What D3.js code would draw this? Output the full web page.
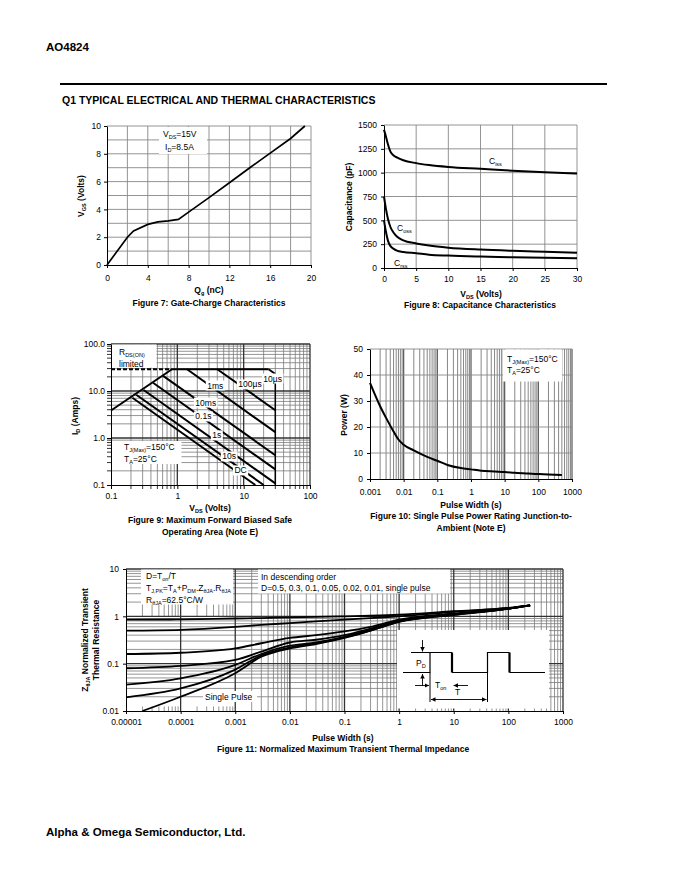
<!DOCTYPE html>
<html>
<head>
<meta charset="utf-8">
<script src="https://cdn.jsdelivr.net/npm/d3@7/dist/d3.min.js"></script>
<style>
  body { margin: 0; background: #fff; }
  svg text { font-family: "Liberation Sans", Arial, sans-serif; fill: #000; }
</style>
</head>
<body>
<svg id="page" width="680" height="880"></svg>
<script>
// Figure 7: gate charge
const gateQg  = [0, 2, 2.6, 4, 5, 6, 7, 8, 10, 12, 14, 16, 18, 19.4]
const gateVgs = [0, 2.0, 2.45, 2.92, 3.1, 3.18, 3.28, 3.8, 4.85, 5.92, 7.0, 8.05, 9.1, 10]
const gateXTicks = [0, 4, 8, 12, 16, 20]
const gateYTicks = [0, 2, 4, 6, 8, 10]

// Figure 8: capacitance
const capVds = [0, 0.3, 0.6, 1, 1.5, 2, 3, 5, 7, 10, 15, 20, 25, 30]
const ciss = [1450, 1380, 1300, 1220, 1180, 1160, 1130, 1100, 1080, 1060, 1040, 1020, 1005, 990]
const coss = [750, 620, 520, 430, 370, 330, 290, 258, 235, 213, 193, 180, 170, 160]
const crss = [500, 380, 290, 230, 200, 182, 168, 155, 140, 130, 120, 113, 107, 102]
const capXTicks = [0, 5, 10, 15, 20, 25, 30]
const capYTicks = [0, 250, 500, 750, 1000, 1250, 1500]

// Figure 9: safe operating area
const rdsLimitV = [0.1, 0.83]
const rdsLimitI = [3.85, 29]
const soaLimitI = 29
const soaNames  = ["10µs", "100µs", "1ms", "10ms", "0.1s", "1s", "10s", "DC"]
const soaStartV = [23.8, 4.0, 1.4, 0.61, 0.43, 0.31, 0.24, 0.21]
const soaStartI = [29, 29, 29, 21, 15, 10.5, 8.3, 7.2]
const soaEndV   = [30, 30, 30, 30, 30, 30, 20, 15]
const soaEndI   = [23, 3.9, 1.33, 0.43, 0.215, 0.108, 0.1, 0.1]
const soaVmax = 30
const soaTicks = [0.1, 1, 10, 100]
const soaXLabels = ["0.1", "1", "10", "100"]
const soaYLabels = ["0.1", "1.0", "10.0", "100.0"]

// Figure 10: single pulse power
const pulseT = [0.001, 0.002, 0.003, 0.005, 0.007, 0.01, 0.02, 0.05, 0.1, 0.2, 0.5, 1, 2, 5, 10, 20, 50, 100, 200, 500]
const pulseP = [37, 28, 23.5, 18.3, 15.2, 13.2, 11, 8.5, 7, 5.4, 4.2, 3.7, 3.2, 2.9, 2.7, 2.4, 2.1, 1.9, 1.7, 1.5]
const pulseXTicks = [0.001, 0.01, 0.1, 1, 10, 100, 1000]
const pulseXLabels = ["0.001", "0.01", "0.1", "1", "10", "100", "1000"]
const pulseYTicks = [0, 10, 20, 30, 40, 50]

// Figure 11: transient thermal impedance
const zthT    = [1e-5, 1e-4, 1e-3, 3e-3, 1e-2, 3e-2, 0.1, 0.3, 1, 10, 100, 250]
const zthD50  = [0.85, 0.86, 0.9, 0.92, 0.95, 0.97, 1.0, 1.03, 1.08, 1.28, 1.5, 1.7]
const zthD30  = [0.5, 0.52, 0.6, 0.66, 0.72, 0.78, 0.85, 0.92, 1.0, 1.25, 1.5, 1.7]
const zthD10  = [0.16, 0.17, 0.21, 0.27, 0.35, 0.4, 0.48, 0.6, 0.85, 1.15, 1.46, 1.7]
const zthD05  = [0.08, 0.09, 0.12, 0.18, 0.28, 0.32, 0.4, 0.55, 0.8, 1.1, 1.45, 1.7]
const zthD02  = [0.036, 0.049, 0.094, 0.16, 0.24, 0.28, 0.37, 0.52, 0.78, 1.1, 1.45, 1.7]
const zthD01  = [0.0195, 0.03, 0.075, 0.15, 0.22, 0.27, 0.36, 0.5, 0.77, 1.08, 1.45, 1.7]
const zthSingleT = [2e-5, 1e-4, 1e-3, 3e-3, 1e-2, 3e-2, 0.1, 0.3, 1, 10, 100, 250]
const zthSingle  = [0.01, 0.02, 0.063, 0.14, 0.21, 0.26, 0.35, 0.5, 0.76, 1.07, 1.44, 1.7]
const zthXTicks = [1e-5, 1e-4, 1e-3, 1e-2, 0.1, 1, 10, 100, 1000]
const zthXLabels = ["0.00001", "0.0001", "0.001", "0.01", "0.1", "1", "10", "100", "1000"]
const zthYTicks = [0.01, 0.1, 1, 10]
const zthYLabels = ["0.01", "0.1", "1", "10"]

const svg = d3.select("#page")
svg.append("rect").attr("width", 680).attr("height", 880).attr("fill", "#fff")

const defs = svg.append("defs")
defs.append("marker").attr("id", "arr").attr("viewBox", "0 0 8 8").attr("refX", 8).attr("refY", 4)
  .attr("markerWidth", 5).attr("markerHeight", 5).attr("orient", "auto-start-reverse")
  .append("path").attr("d", "M0,0 L8,4 L0,8 Z").attr("fill", "#000")

// text with subscripts: parts are strings or [subscript]
function rich(g, x, y, parts, size, attrs = {}) {
  const t = g.append("text").attr("x", x).attr("y", y).attr("font-size", size)
  Object.entries(attrs).forEach(([k, v]) => t.attr(k, v))
  let sub = false
  parts.forEach(p => {
    const isSub = Array.isArray(p)
    const ts = t.append("tspan").text(isSub ? p[0] : p)
    if (isSub && !sub) ts.attr("dy", size * 0.28)
    if (!isSub && sub) ts.attr("dy", -size * 0.28)
    if (isSub) ts.attr("font-size", size * 0.65)
    sub = isSub
  })
  return t
}

function whiteBox(g, x, y, w, h) {
  g.append("rect").attr("x", x).attr("y", y).attr("width", w).attr("height", h).attr("fill", "#fff")
}

function styleAxis(a, fs) {
  a.attr("font-family", null).attr("font-size", fs)
  a.select(".domain").attr("stroke", "#000").attr("stroke-width", 1)
  a.selectAll(".tick line").attr("stroke", "#000")
  a.selectAll("text").attr("fill", "#000")
}

function logMinor(domain) {
  const out = []
  for (let e = Math.round(Math.log10(domain[0])); e < Math.round(Math.log10(domain[1])); e++)
    for (let k = 2; k <= 9; k++) out.push(k * Math.pow(10, e))
  return out
}
function logMajor(domain) {
  const out = []
  for (let e = Math.round(Math.log10(domain[0])); e <= Math.round(Math.log10(domain[1])); e++) out.push(Math.pow(10, e))
  return out
}

function vLines(g, x, y, vals, y0, y1, color, w) {
  g.append("g").selectAll("line").data(vals).join("line")
    .attr("x1", d => x(d)).attr("x2", d => x(d)).attr("y1", y(y0)).attr("y2", y(y1))
    .attr("stroke", color).attr("stroke-width", w)
}
function hLines(g, x, y, vals, x0, x1, color, w) {
  g.append("g").selectAll("line").data(vals).join("line")
    .attr("y1", d => y(d)).attr("y2", d => y(d)).attr("x1", x(x0)).attr("x2", x(x1))
    .attr("stroke", color).attr("stroke-width", w)
}

const TICK = 8.5, TITLE = 8.5, CAP = 8.5
const MINOR = "#7a7a7a"

// ---------- page header / footer ----------
svg.append("text").attr("x", 46).attr("y", 51).attr("font-size", 11.5).attr("font-weight", "bold").text("AO4824")
svg.append("line").attr("x1", 60).attr("x2", 607).attr("y1", 84).attr("y2", 84).attr("stroke", "#000").attr("stroke-width", 2)
svg.append("text").attr("x", 62).attr("y", 104).attr("font-size", 10.5).attr("font-weight", "bold")
  .text("Q1 TYPICAL ELECTRICAL AND THERMAL CHARACTERISTICS")
svg.append("text").attr("x", 46).attr("y", 836).attr("font-size", 11.5).attr("font-weight", "bold")
  .text("Alpha & Omega Semiconductor, Ltd.")

// ---------- Figure 7 ----------
{
  const g = svg.append("g")
  const x = d3.scaleLinear().domain([0, 20]).range([107, 311])
  const y = d3.scaleLinear().domain([0, 10]).range([265, 126])
  vLines(g, x, y, d3.range(2, 21, 2), 0, 10, "#888", 0.9)
  hLines(g, x, y, d3.range(1, 11, 1), 0, 20, "#888", 0.9)
  whiteBox(g, 159, 127, 48, 27)
  rich(g, 163, 137, ["V", ["DS"], "=15V"], 8.5)
  rich(g, 165, 150, ["I", ["D"], "=8.5A"], 8.5)
  g.append("path").datum(d3.zip(gateQg, gateVgs))
    .attr("d", d3.line().x(d => x(d[0])).y(d => y(d[1])))
    .attr("fill", "none").attr("stroke", "#000").attr("stroke-width", 1.7)
  const ax = g.append("g").attr("transform", "translate(0,265)")
    .call(d3.axisBottom(x).tickValues(gateXTicks).tickSize(3).tickPadding(7).tickSizeOuter(0))
  styleAxis(ax, TICK)
  const ay = g.append("g").attr("transform", "translate(107,0)")
    .call(d3.axisLeft(y).tickValues(gateYTicks).tickSize(3).tickPadding(3).tickSizeOuter(0))
  styleAxis(ay, TICK)
  rich(g, 0, 0, ["V", ["GS"], " (Volts)"], TITLE, { "font-weight": "bold", "text-anchor": "middle", transform: "translate(84,196) rotate(-90)" })
  rich(g, 209, 293, ["Q", ["g"], " (nC)"], TITLE, { "font-weight": "bold", "text-anchor": "middle" })
  g.append("text").attr("x", 209).attr("y", 306).attr("font-size", CAP).attr("font-weight", "bold")
    .attr("text-anchor", "middle").text("Figure 7: Gate-Charge Characteristics")
}

// ---------- Figure 8 ----------
{
  const g = svg.append("g")
  const x = d3.scaleLinear().domain([0, 30]).range([384, 577])
  const y = d3.scaleLinear().domain([0, 1500]).range([268, 125])
  vLines(g, x, y, d3.range(5, 31, 5), 0, 1500, "#888", 0.9)
  hLines(g, x, y, d3.range(250, 1501, 250), 0, 30, "#888", 0.9)
  const line = d3.line().x(d => x(d[0])).y(d => y(d[1])).curve(d3.curveMonotoneX)
  ;[ciss, coss, crss].forEach(s => {
    g.append("path").datum(d3.zip(capVds, s)).attr("d", line)
      .attr("fill", "none").attr("stroke", "#000").attr("stroke-width", 2)
  })
  rich(g, 489, 164, ["C", ["iss"]], 8.5)
  rich(g, 397, 231, ["C", ["oss"]], 8.5)
  rich(g, 394, 266, ["C", ["rss"]], 8.5)
  const ax = g.append("g").attr("transform", "translate(0,268)")
    .call(d3.axisBottom(x).tickValues(capXTicks).tickSize(3).tickPadding(5).tickSizeOuter(0))
  styleAxis(ax, TICK)
  const ay = g.append("g").attr("transform", "translate(384,0)")
    .call(d3.axisLeft(y).tickValues(capYTicks).tickFormat(d3.format("d")).tickSize(3).tickPadding(4).tickSizeOuter(0))
  styleAxis(ay, TICK)
  g.append("text").attr("font-size", TITLE).attr("font-weight", "bold").attr("text-anchor", "middle")
    .attr("transform", "translate(352,197) rotate(-90)").text("Capacitance (pF)")
  rich(g, 481, 297, ["V", ["DS"], " (Volts)"], TITLE, { "font-weight": "bold", "text-anchor": "middle" })
  g.append("text").attr("x", 480).attr("y", 308).attr("font-size", CAP).attr("font-weight", "bold")
    .attr("text-anchor", "middle").text("Figure 8: Capacitance Characteristics")
}

// ---------- Figure 9 ----------
{
  const g = svg.append("g")
  const dom = [0.1, 100]
  const x = d3.scaleLog().domain(dom).range([111, 310])
  const y = d3.scaleLog().domain(dom).range([485, 344])
  vLines(g, x, y, logMinor(dom), 0.1, 100, MINOR, 0.8)
  hLines(g, x, y, logMinor(dom), 0.1, 100, MINOR, 0.8)
  vLines(g, x, y, logMajor(dom).slice(1), 0.1, 100, "#333", 1.3)
  hLines(g, x, y, logMajor(dom).slice(1), 0.1, 100, "#333", 1.3)
  // minor ticks outside
  g.append("g").selectAll("line").data(logMinor(dom)).join("line")
    .attr("x1", 107).attr("x2", 111).attr("y1", d => y(d)).attr("y2", d => y(d)).attr("stroke", "#000").attr("stroke-width", 0.8)
  g.append("g").selectAll("line").data(logMinor(dom)).join("line")
    .attr("y1", 485).attr("y2", 489).attr("x1", d => x(d)).attr("x2", d => x(d)).attr("stroke", "#000").attr("stroke-width", 0.8)

  const line = d3.line().x(d => x(d[0])).y(d => y(d[1]))
  const ink = p => p.attr("fill", "none").attr("stroke", "#000").attr("stroke-width", 2)
  ink(g.append("path").datum(d3.zip(rdsLimitV, rdsLimitI)).attr("d", line))
  ink(g.append("path").datum([[0.1, soaLimitI], [rdsLimitV[1], soaLimitI]]).attr("d", line)).attr("stroke-dasharray", "4,2")
  ink(g.append("path").datum([[rdsLimitV[1], soaLimitI], [soaStartV[0], soaLimitI]]).attr("d", line))
  soaNames.forEach((n, i) => {
    ink(g.append("path").datum([[soaStartV[i], soaStartI[i]], [soaEndV[i], soaEndI[i]]]).attr("d", line))
  })
  ink(g.append("path").datum([[soaVmax, soaEndI[0]], [soaVmax, 0.1]]).attr("d", line)).attr("stroke-width", 1.5)

  whiteBox(g, 111.5, 344.5, 45, 23)
  rich(g, 119, 355, ["R", ["DS(ON)"]], 8.5)
  g.append("text").attr("x", 119).attr("y", 367).attr("font-size", 8.5).text("limited")
  whiteBox(g, 111.5, 441, 70, 23)
  rich(g, 124, 450, ["T", ["J(Max)"], "=150°C"], 8.5)
  rich(g, 124, 462, ["T", ["A"], "=25°C"], 8.5)

  // curve labels on white patches
  const labelAt = [[19.8, 15.9], [8.3, 11.9], [2.83, 11.3], [1.87, 4.9], [1.87, 2.48], [3.37, 0.98], [4.77, 0.35], [7.25, 0.176]]
  soaNames.forEach((n, i) => {
    const t = g.append("text").attr("x", x(labelAt[i][0])).attr("y", y(labelAt[i][1])).attr("font-size", 8.5).text(n)
    const b = t.node().getBBox()
    g.insert("rect", () => t.node()).attr("x", b.x - 1.5).attr("y", b.y).attr("width", b.width + 3).attr("height", b.height).attr("fill", "#fff")
  })

  const ax = g.append("g").attr("transform", "translate(0,485)")
    .call(d3.axisBottom(x).tickValues(soaTicks).tickFormat((d, i) => soaXLabels[i]).tickSize(4).tickPadding(4).tickSizeOuter(0))
  styleAxis(ax, TICK)
  const ay = g.append("g").attr("transform", "translate(111,0)")
    .call(d3.axisLeft(y).tickValues(soaTicks).tickFormat((d, i) => soaYLabels[i]).tickSize(4).tickPadding(2).tickSizeOuter(0))
  styleAxis(ay, TICK)
  rich(g, 0, 0, ["I", ["D"], " (Amps)"], TITLE, { "font-weight": "bold", "text-anchor": "middle", transform: "translate(78,416) rotate(-90)" })
  rich(g, 210, 511, ["V", ["DS"], " (Volts)"], TITLE, { "font-weight": "bold", "text-anchor": "middle" })
  g.append("text").attr("x", 210).attr("y", 523).attr("font-size", CAP).attr("font-weight", "bold")
    .attr("text-anchor", "middle").text("Figure 9: Maximum Forward Biased Safe")
  g.append("text").attr("x", 210).attr("y", 535).attr("font-size", CAP).attr("font-weight", "bold")
    .attr("text-anchor", "middle").text("Operating Area (Note E)")
}

// ---------- Figure 10 ----------
{
  const g = svg.append("g")
  const dom = [0.001, 1000]
  const x = d3.scaleLog().domain(dom).range([370, 572])
  const y = d3.scaleLinear().domain([0, 50]).range([479, 349])
  vLines(g, x, y, logMinor(dom), 0, 50, MINOR, 0.9)
  vLines(g, x, y, logMajor(dom).slice(1), 0, 50, "#555", 1.2)
  hLines(g, x, y, pulseYTicks.slice(1), 0.001, 1000, "#888", 0.9)
  whiteBox(g, 503, 349.5, 59, 32)
  rich(g, 507, 362, ["T", ["J(Max)"], "=150°C"], 8.5)
  rich(g, 507, 373, ["T", ["A"], "=25°C"], 8.5)
  g.append("path").datum(d3.zip(pulseT, pulseP))
    .attr("d", d3.line().x(d => x(d[0])).y(d => y(d[1])).curve(d3.curveMonotoneX))
    .attr("fill", "none").attr("stroke", "#000").attr("stroke-width", 2)
  const ax = g.append("g").attr("transform", "translate(0,479)")
    .call(d3.axisBottom(x).tickValues(pulseXTicks).tickFormat((d, i) => pulseXLabels[i]).tickSize(3).tickPadding(7).tickSizeOuter(0))
  styleAxis(ax, TICK)
  const ay = g.append("g").attr("transform", "translate(370,0)")
    .call(d3.axisLeft(y).tickValues(pulseYTicks).tickSize(3).tickPadding(4).tickSizeOuter(0))
  styleAxis(ay, TICK)
  g.append("text").attr("font-size", TITLE).attr("font-weight", "bold").attr("text-anchor", "middle")
    .attr("transform", "translate(347,415) rotate(-90)").text("Power (W)")
  g.append("text").attr("x", 471).attr("y", 508).attr("font-size", TITLE).attr("font-weight", "bold")
    .attr("text-anchor", "middle").text("Pulse Width (s)")
  g.append("text").attr("x", 471).attr("y", 519).attr("font-size", CAP).attr("font-weight", "bold")
    .attr("text-anchor", "middle").text("Figure 10: Single Pulse Power Rating Junction-to-")
  g.append("text").attr("x", 471).attr("y", 531).attr("font-size", CAP).attr("font-weight", "bold")
    .attr("text-anchor", "middle").text("Ambient (Note E)")
}

// ---------- Figure 11 ----------
{
  const g = svg.append("g")
  const xd = [1e-5, 1000], yd = [0.01, 10]
  const x = d3.scaleLog().domain(xd).range([126, 563])
  const y = d3.scaleLog().domain(yd).range([711, 569])
  hLines(g, x, y, logMinor(yd), 1e-5, 1000, MINOR, 0.8)
  // minor verticals on the left decades show only near the top and bottom edges
  const segs = logMinor(xd).flatMap(v => v < 0.0015 ? [[v, 1, 10], [v, 0.01, 0.0125]] : [[v, 0.01, 10]])
  g.append("g").selectAll("line").data(segs).join("line")
    .attr("x1", d => x(d[0])).attr("x2", d => x(d[0])).attr("y1", d => y(d[1])).attr("y2", d => y(d[2]))
    .attr("stroke", MINOR).attr("stroke-width", 0.8)
  vLines(g, x, y, logMajor(xd).slice(1), 0.01, 10, "#333", 1.3)
  hLines(g, x, y, logMajor(yd).slice(1), 1e-5, 1000, "#333", 1.3)

  whiteBox(g, 141, 569.5, 92, 35)
  rich(g, 146, 579, ["D=T", ["on"], "/T"], 8.5)
  rich(g, 146, 591, ["T", ["J,PK"], "=T", ["A"], "+P", ["DM"], ".Z", ["θJA"], ".R", ["θJA"]], 8.5)
  rich(g, 146, 603, ["R", ["θJA"], "=62.5°C/W"], 8.5)
  whiteBox(g, 258, 569.5, 192, 24)
  g.append("text").attr("x", 261).attr("y", 580).attr("font-size", 8.5).text("In descending order")
  g.append("text").attr("x", 261).attr("y", 591).attr("font-size", 8.5).text("D=0.5, 0.3, 0.1, 0.05, 0.02, 0.01, single pulse")

  const line = d3.line().x(d => x(d[0])).y(d => y(d[1])).curve(d3.curveMonotoneX)
  ;[zthD50, zthD30, zthD10, zthD05, zthD02, zthD01].forEach(s => {
    g.append("path").datum(d3.zip(zthT, s)).attr("d", line)
      .attr("fill", "none").attr("stroke", "#000").attr("stroke-width", 1.8)
  })
  g.append("path").datum(d3.zip(zthSingleT, zthSingle)).attr("d", line)
    .attr("fill", "none").attr("stroke", "#000").attr("stroke-width", 1.8)

  whiteBox(g, 203, 691, 54, 11)
  g.append("text").attr("x", 205).attr("y", 700).attr("font-size", 8.5).text("Single Pulse")

  // duty-cycle sketch
  whiteBox(g, 397, 630, 152, 78.5)
  const pth = (d, w) => g.append("path").attr("d", d).attr("fill", "none").attr("stroke", "#000").attr("stroke-width", w)
  pth("M403,672.5 H430 V652.5 H452 M452,672.5 H487.5 V652.5 H509.5 M509.5,672.5 H545", 1.2)
  pth("M452,652.5 V672.5 M509.5,652.5 V672.5", 2.2)
  pth("M411,652.5 H430 M430,672.5 V702 M487.5,672.5 V702", 1)
  const arrow = (x1, y1, x2, y2, both) => {
    const l = g.append("line").attr("x1", x1).attr("y1", y1).attr("x2", x2).attr("y2", y2)
      .attr("stroke", "#000").attr("stroke-width", 0.9).attr("marker-end", "url(#arr)")
    if (both) l.attr("marker-start", "url(#arr)")
  }
  arrow(422.5, 640, 422.5, 651.5)
  arrow(422.5, 686, 422.5, 674)
  arrow(415, 685.5, 429, 685.5)
  arrow(468, 685.5, 453.5, 685.5)
  arrow(431, 699.5, 486.5, 699.5, true)
  rich(g, 416, 666, ["P", ["D"]], 8.5)
  rich(g, 435, 688, ["T", ["on"]], 8.5)
  g.append("text").attr("x", 455).attr("y", 695).attr("font-size", 8.5).text("T")

  const ax = g.append("g").attr("transform", "translate(0,711)")
    .call(d3.axisBottom(x).tickValues(zthXTicks).tickFormat((d, i) => zthXLabels[i]).tickSize(3).tickPadding(5).tickSizeOuter(0))
  styleAxis(ax, TICK)
  const ay = g.append("g").attr("transform", "translate(126,0)")
    .call(d3.axisLeft(y).tickValues(zthYTicks).tickFormat((d, i) => zthYLabels[i]).tickSize(3).tickPadding(4).tickSizeOuter(0))
  styleAxis(ay, TICK)
  rich(g, 0, 0, ["Z", ["θJA"], " Normalized Transient"], TITLE, { "font-weight": "bold", "text-anchor": "middle", transform: "translate(88,640) rotate(-90)" })
  g.append("text").attr("font-size", TITLE).attr("font-weight", "bold").attr("text-anchor", "middle")
    .attr("transform", "translate(99,640) rotate(-90)").text("Thermal Resistance")
  g.append("text").attr("x", 343).attr("y", 741).attr("font-size", TITLE).attr("font-weight", "bold")
    .attr("text-anchor", "middle").text("Pulse Width (s)")
  g.append("text").attr("x", 343).attr("y", 752).attr("font-size", CAP).attr("font-weight", "bold")
    .attr("text-anchor", "middle").text("Figure 11: Normalized Maximum Transient Thermal Impedance")
}
</script>
</body>
</html>
